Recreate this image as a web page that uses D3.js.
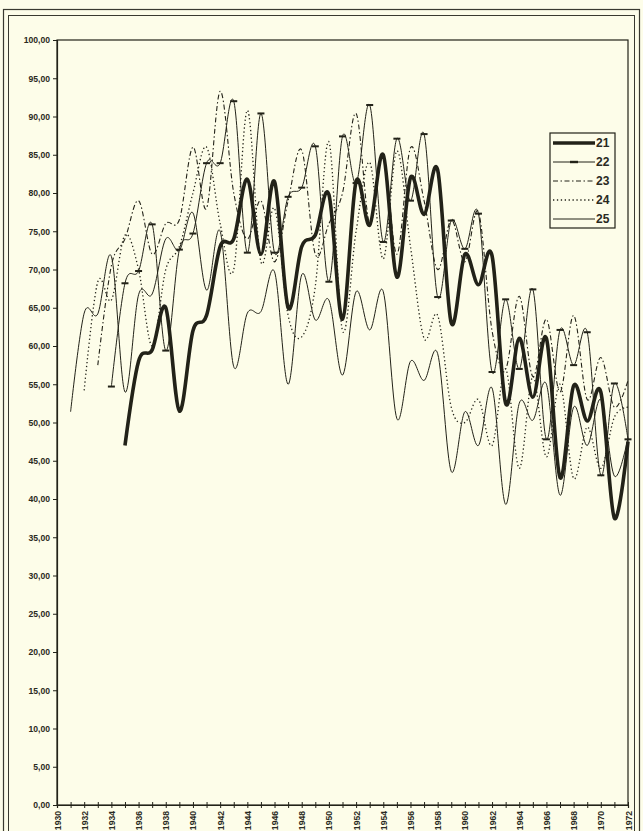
<!DOCTYPE html>
<html>
<head>
<meta charset="utf-8">
<script src="https://cdn.jsdelivr.net/npm/d3@7"></script>
<style>
  html, body { margin: 0; padding: 0; background: #fdfde9; }
  svg { display: block; }
  text { font-family: "Liberation Sans", Arial, sans-serif; fill: #2a2a22; }
</style>
</head>
<body>
<div id="wrapper"></div>
<script>
// 0. Data
const years = [1930, 1931, 1932, 1933, 1934, 1935, 1936, 1937, 1938, 1939,
  1940, 1941, 1942, 1943, 1944, 1945, 1946, 1947, 1948, 1949,
  1950, 1951, 1952, 1953, 1954, 1955, 1956, 1957, 1958, 1959,
  1960, 1961, 1962, 1963, 1964, 1965, 1966, 1967, 1968, 1969,
  1970, 1971, 1972]

const seriesNames = ["21", "22", "23", "24", "25"]

const s21 = [null, null, null, null, null,
  47, 58, 59.5, 65, 51.5, 62, 64, 73, 74, 81.8,
  72, 81.5, 65, 73, 74.5, 79.8, 63.5, 81.5, 75.8, 85,
  69, 82, 77.2, 83, 63, 72, 68, 71.8, 52.5, 61,
  53.3, 61, 42.8, 54.8, 50.2, 54, 37.5, 47.5]

const s22 = [null, null, null, null,
  54.7, 68.2, 69.8, 75.9, 59.4, 72.6, 74.7, 83.9, 83.9, 92,
  72.2, 90.4, 72.2, 79.5, 80.7, 86.1, 68.4, 87.4, 81.3, 91.5,
  73.6, 87.1, 79, 87.7, 66.4, 76.4, 72.7, 77.3, 56.6, 66.1,
  57, 67.4, 47.8, 62.1, 57.5, 61.8, 43.1, 55.1, 47.8]

const s23 = [null, null, null,
  57.5, 70.5, 74, 79, 72, 76, 76.5, 86, 78, 93.3,
  80, 74, 79, 71, 79, 85.6, 72, 76, 80, 90.4,
  76, 85, 72, 85.9, 79, 70, 76.5, 71, 77.5, 62,
  57, 66.5, 56, 63.5, 54, 64, 53, 58.5, 52, 55.5]

const s24 = [null, null,
  54.2, 68.4, 66, 74.5, 70, 60, 70, 73, 80, 86, 76,
  70, 90.8, 71, 78, 64, 61.2, 67.8, 86.7, 62, 75,
  84, 71.4, 85.5, 73, 61, 64, 52, 50, 53, 47,
  57, 44, 56, 45.5, 55, 42.7, 49.4, 44, 50.7, 52]

const s25 = [null,
  51.4, 64.3, 64.2, 71.7, 54, 66.7, 66.8, 74, 72.5, 77.4,
  67.3, 75, 57.3, 64.3, 64.5, 69.7, 55, 69.3, 63.4, 66,
  56.2, 67.1, 62.1, 67.1, 50.5, 58, 55.5, 59, 43.6, 51.4,
  47, 54.5, 39.3, 52.5, 50.3, 55, 40.5, 52, 47, 53,
  43, 48]

const yTicks = [0, 5, 10, 15, 20, 25, 30, 35, 40, 45, 50,
  55, 60, 65, 70, 75, 80, 85, 90, 95, 100]
const xLabels = years.filter(d => (d - 1930) % 2 == 0)

const allSeries = [s21, s22, s23, s24, s25]

// line styles per series
const styles = {
  "21": {width: 3.6, dash: null},
  "22": {width: 1, dash: null, marker: true},
  "23": {width: 1.1, dash: "5,2.5,1.5,2.5"},
  "24": {width: 1.3, dash: "1.3,2.6"},
  "25": {width: 1, dash: null},
}
const ink = "#222218"

// 1. Dimensions
const dimensions = {
  width: 643,
  height: 831,
  margin: {top: 40, right: 15, bottom: 26, left: 57},
}
dimensions.boundedWidth = dimensions.width
  - dimensions.margin.left - dimensions.margin.right
dimensions.boundedHeight = dimensions.height
  - dimensions.margin.top - dimensions.margin.bottom

// 2. Canvas
const wrapper = d3.select("#wrapper")
  .append("svg")
    .attr("width", dimensions.width)
    .attr("height", dimensions.height)

wrapper.append("rect")
    .attr("width", dimensions.width)
    .attr("height", dimensions.height)
    .attr("fill", "#fdfde9")

// double frame round the page
wrapper.append("rect")
    .attr("x", 3.5).attr("y", 9.5)
    .attr("width", 636).attr("height", 840)
    .attr("fill", "none").attr("stroke", "#3a3a30").attr("stroke-width", 1.2)
wrapper.append("rect")
    .attr("x", 8.5).attr("y", 15.5)
    .attr("width", 626).attr("height", 840)
    .attr("fill", "none").attr("stroke", "#3a3a30").attr("stroke-width", 1)

const bounds = wrapper.append("g")
    .attr("transform", `translate(${dimensions.margin.left},${dimensions.margin.top})`)

// 3. Scales
const xScale = d3.scaleLinear()
  .domain([years[0], years[years.length - 1]])
  .range([0, dimensions.boundedWidth])

const yScale = d3.scaleLinear()
  .domain([0, 100])
  .range([dimensions.boundedHeight, 0])

// plot frame (top and right)
bounds.append("rect")
    .attr("width", dimensions.boundedWidth)
    .attr("height", dimensions.boundedHeight)
    .attr("fill", "none")
    .attr("stroke", ink)
    .attr("stroke-width", 1.2)

// 4. Data lines (smoothed like the spreadsheet)
const lineGenerator = d3.line()
  .defined(d => d.v != null)
  .curve(d3.curveCardinal.tension(0))
  .x(d => xScale(d.year))
  .y(d => yScale(d.v))

allSeries.forEach((vals, i) => {
  const name = seriesNames[i]
  const st = styles[name]
  const pts = vals.map((v, j) => ({year: years[j], v: v}))
  bounds.append("path")
      .attr("d", lineGenerator(pts))
      .attr("fill", "none")
      .attr("stroke", ink)
      .attr("stroke-width", st.width)
      .attr("stroke-linejoin", "round")
      .attr("stroke-dasharray", st.dash)
  if (st.marker) {
    bounds.selectAll(null)
      .data(pts.filter(d => d.v != null))
      .join("rect")
        .attr("x", d => xScale(d.year) - 3.5)
        .attr("y", d => yScale(d.v) - 1)
        .attr("width", 7)
        .attr("height", 2)
        .attr("fill", ink)
  }
})

// 5. Axes
const yAxisGenerator = d3.axisLeft(yScale)
  .tickValues(yTicks)
  .tickSize(4)
  .tickPadding(3)
  .tickFormat(d => d3.format(".2f")(d).replace(".", ","))

const yAxis = bounds.append("g").call(yAxisGenerator)
yAxis.select(".domain").attr("stroke", ink).attr("stroke-width", 1.2)
yAxis.selectAll("line").attr("stroke", ink)
yAxis.selectAll("text")
    .attr("font-size", 8.6)
    .attr("font-weight", "bold")
    .attr("fill", "#2a2a22")

const xAxisGenerator = d3.axisBottom(xScale)
  .tickValues(years)
  .tickSize(3)
  .tickFormat(d => xLabels.includes(d) ? d : "")

const xAxis = bounds.append("g")
    .attr("transform", `translate(0,${dimensions.boundedHeight})`)
    .call(xAxisGenerator)
xAxis.select(".domain").attr("stroke", ink).attr("stroke-width", 1.2)
xAxis.selectAll("line").attr("stroke", ink).attr("y1", -3)
xAxis.selectAll("text")
    .attr("font-size", 8.6)
    .attr("font-weight", "bold")
    .attr("fill", "#2a2a22")
    .attr("text-anchor", "end")
    .attr("dy", "0.35em")
    .attr("transform", "translate(0,2) rotate(-90)")
    .attr("x", -4)
    .attr("y", 0)

// 6. Legend
const legend = wrapper.append("g")
    .attr("transform", "translate(550,133)")

legend.append("rect")
    .attr("width", 65)
    .attr("height", 95)
    .attr("fill", "#fdfde9")
    .attr("stroke", ink)
    .attr("stroke-width", 1.2)

const rowY = d3.scalePoint()
  .domain(seriesNames)
  .range([10, 86])

seriesNames.forEach(name => {
  const st = styles[name]
  const g = legend.append("g")
      .attr("transform", `translate(0,${rowY(name)})`)
  g.append("line")
      .attr("x1", 3).attr("x2", 45)
      .attr("stroke", ink)
      .attr("stroke-width", st.width)
      .attr("stroke-dasharray", st.dash)
  if (st.marker) {
    g.append("rect")
        .attr("x", 20).attr("y", -1.2)
        .attr("width", 8).attr("height", 2.4)
        .attr("fill", ink)
  }
  g.append("text")
      .attr("x", 46)
      .attr("dy", "0.36em")
      .attr("font-size", 12)
      .attr("font-weight", "bold")
      .text(name)
})
</script>
</body>
</html>
